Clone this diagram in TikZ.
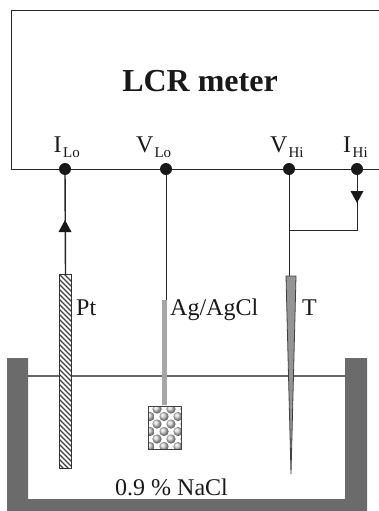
\documentclass[tikz,border=0pt]{standalone}
\usepackage{fontspec}
\setmainfont{Liberation Serif}
\definecolor{tankgray}{gray}{0.42}
\definecolor{rodgray}{gray}{0.65}
\newcommand{\lowsub}[1]{\raisebox{-5.5pt}{\fontsize{15}{15}\selectfont #1}}
\tikzset{
  wire/.style={draw=black!85,line width=1pt},
  thickwire/.style={draw=black!85,line width=1.4pt},
  term/.style={circle,fill=black!90,inner sep=0pt,minimum size=12pt},
  lbl/.style={inner sep=0pt,font=\fontsize{24}{26}\selectfont,text=black!90},
  arrowhead/.style={fill=black!90,draw=none},
}
\begin{document}
\begin{tikzpicture}[x=1pt,y=-1pt]
\useasboundingbox (0,0) rectangle (379,511);
% meter
\draw[wire] (379,11) -- (11,11) -- (11,169) -- (379,169);
\node[inner sep=0pt,anchor=base,font=\bfseries\fontsize{32}{34}\selectfont,text=black!90] (title) at (200,91) {LCR meter};
% terminals
\node[term] (il) at (65,169) {};
\node[term] (vl) at (166,169) {};
\node[term] (vh) at (289,169) {};
\node[term] (ih) at (357,169) {};
\node[lbl,anchor=base west] (tl1) at (53.5,152) {I\hspace{1.5pt}\lowsub{Lo}};
\node[lbl,anchor=base west] (tl2) at (136,152) {V\hspace{1pt}\lowsub{Lo}};
\node[lbl,anchor=base west] (tl3) at (270,152) {V\hspace{1pt}\lowsub{Hi}};
\node[lbl,anchor=base west] (tl4) at (343,152) {I\hspace{1.5pt}\lowsub{Hi}};
% tank
\fill[tankgray] (7,358) -- (28,358) -- (28,499) -- (345,499) -- (345,358) -- (367,358) -- (367,511) -- (7,511) -- cycle;
\coordinate (wl) at (28,376);
\coordinate (wr) at (345,376);
\draw[draw=black!60,line width=1.2pt] (wl) -- (wr);
% Pt electrode
\node[fill=white,minimum width=11pt,minimum height=193pt,inner sep=0pt] (pt) at (65.5,371.5) {};
\begin{scope}
\clip (pt.south west) rectangle (pt.north east);
\foreach \k in {0,...,42}{
  \draw[black!75,line width=1.2pt] (58,268+\k*5) -- (73,283+\k*5);
}
\end{scope}
\draw[draw=black!80,line width=.8pt] (pt.south west) rectangle (pt.north east);
\draw[thickwire] (il) -- (pt.north);
\fill[arrowhead] (65,220) -- (71.5,232) -- (58.5,232) -- cycle;
\node[lbl,anchor=base west] (ptl) at (76,315) {Pt};
% Ag/AgCl electrode
\coordinate (ag1) at (164.5,300);
\coordinate (ag2) at (164.5,405);
\draw[wire] (vl) -- (166,300);
\draw[draw=rodgray,line width=4.5pt] (ag1) -- (ag2);
\node[fill=white,minimum width=32pt,minimum height=43pt,inner sep=0pt] (ag) at (165,428) {};
\begin{scope}
\clip (ag.south west) rectangle (ag.north east);
\foreach \r in {0,2,4}{
  \foreach \c in {0,1,2}{
    \shade[ball color=black!18] (157+\c*14,409+\r*7.5) circle (4.6pt);
  }
}
\foreach \r in {1,3,5}{
  \foreach \c in {0,1,2,3}{
    \shade[ball color=black!18] (150+\c*14,409+\r*7.5) circle (4.6pt);
  }
}
\end{scope}
\draw[draw=black!75,line width=1.2pt] (ag.south west) rectangle (ag.north east);
\node[lbl,anchor=base west] (agl) at (170,315) {Ag/AgCl};
% T electrode
\coordinate (ttop) at (291,276);
\coordinate (ttip) at (291,474);
\filldraw[fill=black!42,draw=black!75,line width=.8pt] (286,276) -- (296,276) -- (ttip) -- cycle;
\draw[wire] (vh) -- (ttop -| vh);
\node[lbl,anchor=base west] (tl) at (302,315) {T};
% branch
\coordinate (br) at (289,230);
\coordinate (bc) at (357,230);
\draw[wire] (br) -- (bc) -- (ih);
\fill[arrowhead] (357,203) -- (350.5,191) -- (363.5,191) -- cycle;
% solution
\node[lbl,anchor=base west] (na) at (115,495) {0.9 \% NaCl};
\end{tikzpicture}
\end{document}
